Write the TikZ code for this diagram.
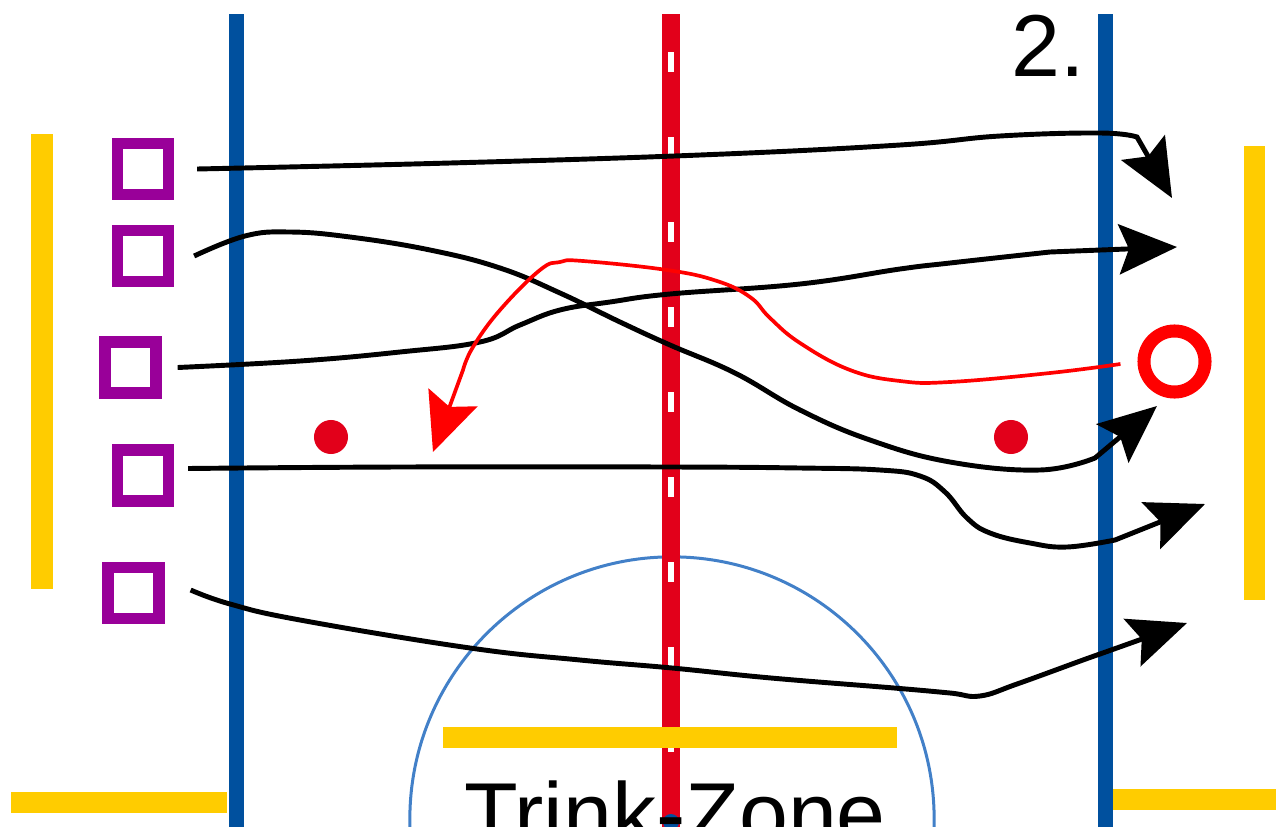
\documentclass[tikz,border=0pt]{standalone}
\usepackage{fontspec}
\setmainfont{Liberation Sans}
\usepackage{tikz}
\usetikzlibrary{arrows.meta}

\definecolor{rinkblue}{RGB}{0,80,158}
\definecolor{rinkred}{RGB}{226,0,26}
\definecolor{boardyellow}{RGB}{255,204,0}
\definecolor{playerpurple}{RGB}{153,0,153}
\definecolor{circleblue}{RGB}{66,128,200}

\begin{document}
\begin{tikzpicture}[x=0.01cm,y=-0.01cm,
    player/.style={draw=playerpurple,line width=3.2pt,minimum size=0.51cm,inner sep=0pt},
    spot/.style={circle,fill=rinkred,minimum size=0.34cm,inner sep=0pt},
    run/.style={line width=1.4pt,-{Stealth[length=0.58cm,width=0.5cm,inset=0.1cm]}},
    board/.style={boardyellow,line width=0.21cm},
    bigtext/.style={font=\fontsize{25}{30}\selectfont,inner sep=0pt}]
    \useasboundingbox (0,0) rectangle (1278,827);
    \clip (0,0) rectangle (1278,827);
    % boards
    \draw[board] (42,134) -- (42,589);
    \draw[board] (1254.5,146) -- (1254.5,600);
    \draw[board] (11,802) -- (227,802);
    \draw[board] (1112,799) -- (1276,799);
    % neutral zone
    \draw[circleblue,line width=0.03cm] (672,819) circle[radius=2.62cm];
    \draw[rinkblue,line width=0.15cm] (236.5,14) -- (236.5,827);
    \draw[rinkblue,line width=0.15cm] (1105.5,14) -- (1105.5,827);
    \draw[rinkred,line width=0.17cm] (671,14) -- (671,827);
    \foreach \y in {52,137,...,817}
        \fill[white] (668,\y) rectangle (674,\y+20);
    \draw[board] (443,737) -- (897,737);
    \fill[rinkblue] (671,822) circle[radius=0.08cm];
    \node[bigtext] (num) at (1048,46) {2.};
    \node[bigtext,anchor=north] (zone) at (675,780) {Trink-Zone};
    \node[spot] (dotL) at (331,437) {};
    \node[spot] (dotR) at (1011,437) {};
    % players
    \node[player] (p1) at (143,169) {};
    \node[player] (p2) at (143,256) {};
    \node[player] (p3) at (130.5,367.5) {};
    \node[player] (p4) at (143,475.5) {};
    \node[player] (p5) at (133.5,593) {};
    \node[circle,draw=red,line width=3.7pt,minimum size=0.61cm,inner sep=0pt] (rc) at (1174.5,361.5) {};
    % targets
    \coordinate (e1) at (1172,198);
    \coordinate (e2) at (1157,406);
    \coordinate (e3) at (1177,247);
    \coordinate (e4) at (1205,504);
    \coordinate (e5) at (1187,623);
    \coordinate (er) at (433,452);
    % runs
    \draw[run] plot [smooth,tension=0.7] coordinates {([xshift=0.23cm]p1.east) (450,163) (700,155) (900,145) (1000,136) (1100,133) (1137,137)} -- (e1);
    \draw[run] plot [smooth,tension=0.7] coordinates {([xshift=0.2cm]p2.east) (245,236) (290,232) (350,237) (430,250) (500,268) (560,293) (620,322) (670,345) (735,373) (800,410) (870,440) (950,462) (1040,470) (1095,458)} -- (e2);
    \draw[run] plot [smooth,tension=0.7] coordinates {([xshift=0.16cm]p3.east) (300,361) (400,352) (480,342) (520,325) (560,310) (610,302) (670,294) (800,284) (900,269) (950,263) (1050,252)} -- (e3);
    \draw[run] plot [smooth,tension=0.7] coordinates {([xshift=0.14cm,yshift=0.07cm]p4.east) (400,467) (670,467) (800,468) (880,470) (920,476) (945,492) (967,518) (990,533) (1030,543) (1067,547) (1115,540)} -- (e4);
    \draw[run] plot [smooth,tension=0.7] coordinates {([xshift=0.26cm,yshift=0.03cm]p5.east) (230,604) (300,620) (470,648) (580,660) (672,668) (771,678) (894,688) (950,693) (980,696) (1017,684) (1083,660) (1100,654)} -- (e5);
    \draw[run,red,line width=1.05pt,-{Stealth[length=0.58cm,width=0.52cm,inset=0.1cm]}] plot [smooth,tension=0.7] coordinates {([xshift=-0.17cm,yshift=-0.025cm]rc.west) (1050,373) (950,382) (900,381) (850,370) (800,343) (770,318) (750,297) (717,281) (667,270) (583,261) (560,262) (540,270) (500,310) (473,347) (463,370)} -- (er);
\end{tikzpicture}
\end{document}
